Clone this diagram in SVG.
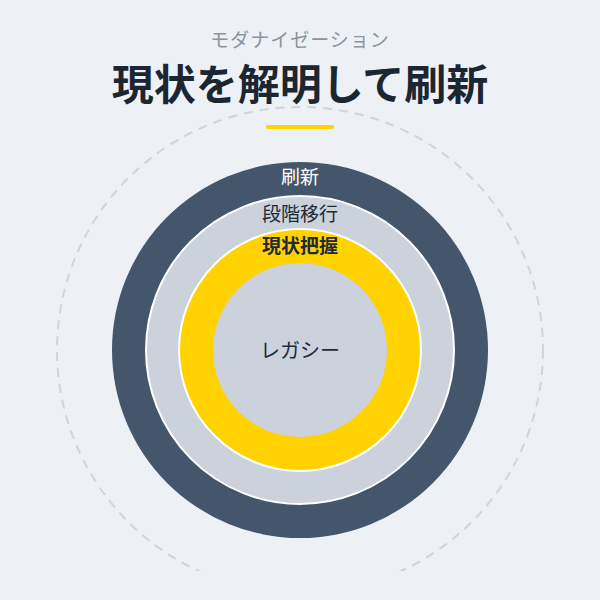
<svg xmlns="http://www.w3.org/2000/svg" width="600" height="600" viewBox="0 0 600 600">
  <style>
    .jp { font-family: "Noto Sans CJK JP", "Noto Sans", sans-serif; text-anchor: middle; }
    .ring-label { font-size: 19px; }
  </style>
  <defs>
    <clipPath id="clipBottom">
      <rect x="0" y="0" width="600" height="571"/>
    </clipPath>
  </defs>
  <rect x="0" y="0" width="600" height="600" fill="#edf1f6"/>

  <g id="header">
    <text class="jp" x="300" y="47" font-size="19" fill="#8b939d" letter-spacing="1">モダナイゼーション</text>
    <text class="jp" x="300" y="100" font-size="42" font-weight="700" fill="#1c2633">現状を解明して刷新</text>
    <rect x="266" y="125" width="68" height="4" rx="2" fill="#ffd200"/>
  </g>

  <g id="guide">
    <circle cx="300" cy="350" r="243" fill="none" stroke="#cfd4da" stroke-width="2" stroke-dasharray="9 7" clip-path="url(#clipBottom)"/>
  </g>

  <g id="connectors"></g>

  <g id="node-refresh">
    <circle cx="300" cy="350" r="188" fill="#44566c"/>
    <text class="jp ring-label" x="300" y="184" fill="#ffffff">刷新</text>
  </g>

  <g id="node-migration">
    <circle cx="300" cy="350" r="154" fill="#cbd2dc" stroke="#ffffff" stroke-width="2"/>
    <text class="jp ring-label" x="300" y="221" fill="#1e2a38">段階移行</text>
  </g>

  <g id="node-assessment">
    <circle cx="300" cy="350" r="121" fill="#ffd200" stroke="#ffffff" stroke-width="2"/>
    <text class="jp ring-label" x="300" y="253" font-weight="700" fill="#1e2a38">現状把握</text>
  </g>

  <g id="node-legacy">
    <circle cx="300" cy="350" r="87" fill="#cbd2dc"/>
    <text class="jp" x="300" y="358" font-size="20" fill="#1e2a38">レガシー</text>
  </g>
</svg>
